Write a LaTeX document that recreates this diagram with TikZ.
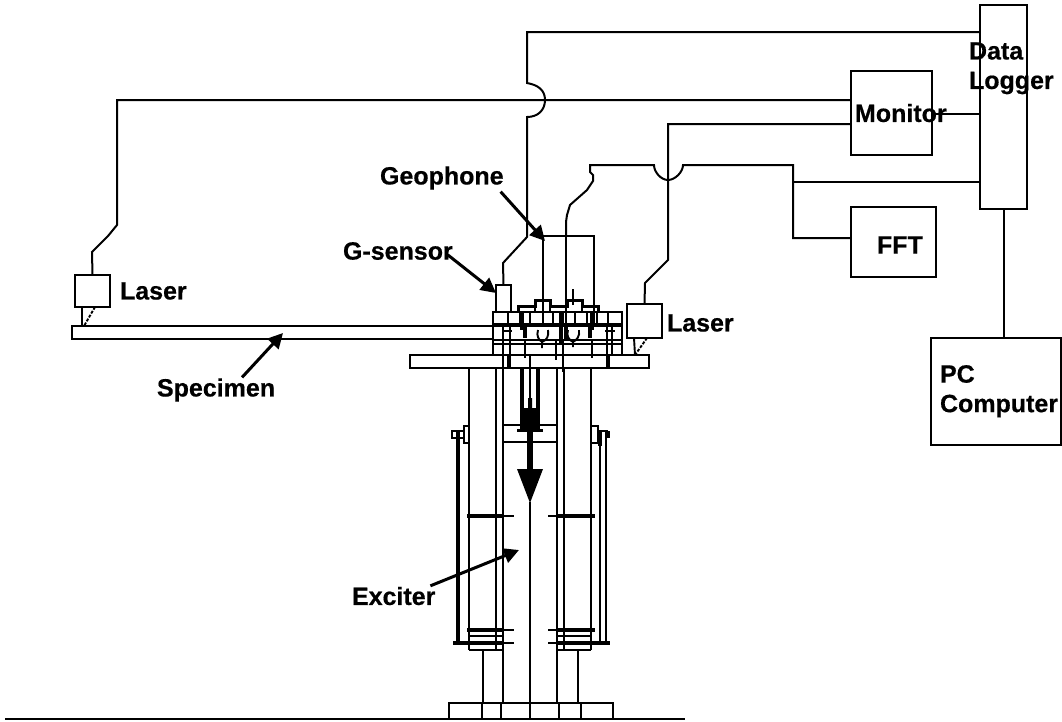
\documentclass[tikz,border=0pt]{standalone}
\usepackage{fontspec}
\setmainfont{Liberation Sans}[BoldFeatures={FakeBold=0.5}]
\usetikzlibrary{arrows.meta}
\tikzset{
  wire/.style={line width=2pt,line join=miter},
  thinl/.style={line width=1.9pt},
  thickl/.style={line width=4.6pt},
  bx/.style={draw,line width=2pt,inner sep=0pt,outer sep=0pt},
  lab/.style={inner sep=0pt,outer sep=0pt,font=\fontsize{25}{25}\selectfont\bfseries},
  pointer/.style={line width=3pt,-{Triangle[length=15pt,width=15pt]},shorten <=0pt}
}
\begin{document}
\begin{tikzpicture}[x=1pt,y=-1pt]
\useasboundingbox (0,0) rectangle (1062,721);
% boxes
\node[bx,minimum width=47pt,minimum height=204pt] (logger) at (1003.5,107) {};
\node[bx,minimum width=81pt,minimum height=84pt] (monitor) at (891.5,113) {};
\node[bx,minimum width=85pt,minimum height=70pt] (fft) at (893.5,242) {};
\node[bx,minimum width=130pt,minimum height=107pt] (pc) at (996,391.5) {};
\node[bx,minimum width=35pt,minimum height=32pt] (laserL) at (92.5,291) {};
\node[bx,minimum width=35pt,minimum height=34pt] (laserR) at (644.5,321) {};
\node[bx,minimum width=15pt,minimum height=27pt] (gsens) at (503.5,298.5) {};
\node[bx,minimum width=421pt,minimum height=13pt] (specimen) at (282.5,332.5) {};
\node[bx,minimum width=239pt,minimum height=13pt] (table) at (529.5,361.5) {};
\node[bx,minimum width=51pt,minimum height=76pt] (geo) at (568.5,274) {};
\node[bx,minimum width=129pt,minimum height=43pt] (clamp) at (557.5,333.5) {};
\node[bx,minimum width=164pt,minimum height=16pt] (base) at (531,711) {};
\coordinate (gndL) at (5,719);
\coordinate (gndR) at (685,719);
\draw[line width=2.2pt] (gndL) -- (gndR);
% wires
\draw[wire] (logger.west |- 0,32) -- (527,32) -- (527,83) .. controls (538,85) and (545,90) .. (545,100) .. controls (545,110) and (538,117) .. (527,117) -- (527,237) -- (503,263) -- (gsens.north);
\draw[wire] (monitor.west |- 0,100) -- (117,100) -- (117,225) -- (108,236) -- (92,252) -- (laserL.north);
\draw[wire] (monitor.west |- 0,124) -- (668,124) -- (668,260) -- (645,283) -- (laserR.north);
\draw[wire] (monitor.east |- 0,114) -- (logger.west |- 0,114);
\draw[wire] (logger.west |- 0,182) -- (793,182);
\draw[wire] (fft.west |- 0,238) -- (793,238) -- (793,165) -- (683,165) .. controls (683,172) and (675,180) .. (668,180) .. controls (661,180) and (654,172) .. (654,165) -- (590,165) -- (590,172) -- (593,175) -- (593,181) -- (587,190) -- (570,205) -- (567,215) -- (566,222) -- (566,236);
\draw[wire] (logger.south) -- (logger.south |- pc.north);
% laser feet
\draw[thinl] (82,307) -- (82,326);
\draw[thinl,dash pattern=on 3pt off 1.5pt] (95,307) -- (84,326);
\draw[thinl] (634,338) -- (635,355);
\draw[thinl,dash pattern=on 3pt off 1.5pt] (647,338) -- (635,355);
% geophone stems
\draw[thinl] (566,236) -- (566,324) (543,300) -- (543,324) (594,312) -- (594,324);
\draw[thinl] (573,289) -- (573,305);
% clamp details
\draw[line width=3.6pt] (493,325) -- (622,325);
\draw[thinl] (493,340) -- (622,340) (493,344) -- (622,344);
\foreach \x in {508,520,530,553,563,575,587,597,608} \draw[thinl] (\x,312) -- (\x,324);
\draw[line width=3pt] (518,312) -- (518,306) -- (535,306) -- (535,300) -- (550,300) -- (550,306) -- (567,306) -- (567,300) -- (582,300) -- (582,306) -- (598,306) -- (598,312);
\draw[thinl] (535,306) -- (535,312) (550,306) -- (550,312) (582,306) -- (582,312);
\draw[line width=3.4pt] (522,312) -- (522,330) (561,312) -- (561,345) (592,312) -- (592,330) (525,327) -- (525,338) (566,327) -- (566,340) (590,327) -- (590,338);
\draw[thinl] (503,327) -- (503,368) (510,327) -- (510,355) (607,327) -- (607,368) (612,327) -- (612,355);
\draw[thinl] (502,331) -- (512,331) (605,331) -- (615,331);
\draw[thinl] (525,340) -- (525,358) (530,355) -- (530,368) (592,340) -- (592,358) (556,340) -- (556,360) (563,340) -- (563,372);
\draw[thinl] (538,330) .. controls (536,336) and (539,340) .. (542,342) -- (542,348) (548,330) .. controls (549,336) and (547,340) .. (542,342);
\draw[thinl] (568,330) .. controls (566,336) and (569,340) .. (573,342) -- (573,347) (579,330) .. controls (580,336) and (577,340) .. (573,342);
\draw[line width=4pt] (509,355) -- (509,368) (608,355) -- (608,368);
% exciter columns
\draw[thinl] (469,368) -- (469,650) (496,368) -- (496,650) (503,368) -- (503,703);
\draw[thinl] (557,368) -- (557,703) (564,368) -- (564,650) (591,368) -- (591,650);
\draw[thinl] (483,650) -- (483,703) (578,650) -- (578,703);
\draw[thinl] (482,703) -- (482,718) (501,703) -- (501,718) (530,703) -- (530,718) (559,703) -- (559,718) (581,703) -- (581,718);
\draw[thinl] (503,425) -- (557,425) (503,442) -- (557,442);
\draw[thinl] (530,502) -- (530,703);
% cross bands
\draw[thickl] (467,516) -- (503,516);
\draw[thinl] (503,516) -- (514,516) (548,516) -- (557,516);
\draw[thickl] (557,516) -- (595,516);
\draw[thickl] (467,630) -- (503,630);
\draw[thinl] (503,630) -- (514,630) (548,630) -- (557,630);
\draw[thickl] (557,630) -- (595,630);
\draw[thickl] (453,643) -- (503,643);
\draw[thinl] (503,643) -- (514,643) (548,643) -- (557,643);
\draw[thickl] (557,643) -- (610,643);
\draw[thinl] (469,636) -- (503,636) (557,636) -- (591,636);
\draw[thinl] (469,650) -- (503,650) (557,650) -- (591,650);
% side brackets
\draw[thinl] (464,426) rectangle (469,443) (452,431) rectangle (464,438);
\draw[line width=3.8pt] (458,431) -- (458,643);
\draw[thinl] (591,426) -- (598,426) -- (598,443) -- (591,443);
\draw[thinl] (598,431) -- (608,431) (606,431) -- (606,643);
\draw[thinl] (600,431) -- (600,643);
\draw[line width=3.4pt] (608,431) -- (608,438) (600,431) -- (600,446);
% central actuator
\draw[line width=4pt] (522,368) -- (522,430) (538,368) -- (538,430);
\draw[thinl] (530,368) -- (530,405);
\fill (523,430) -- (523,408) -- (528,408) -- (528,398) -- (532,398) -- (532,408) -- (537,408) -- (537,430) -- cycle;
\draw[line width=3pt] (517,430) -- (543,430);
\draw[line width=6pt] (530,430) -- (530,470);
\fill (517,469) -- (543,469) -- (530,503) -- cycle;
% labels
\node[lab,anchor=west] (tLaserL) at (120,291) {Laser};
\node[lab,anchor=west] (tLaserR) at (667,323) {Laser};
\node[lab,anchor=west] (tGsens) at (343,251) {G-sensor};
\node[lab,anchor=west] (tGeo) at (380,178) {Geophone};
\node[lab,anchor=west] (tSpec) at (157,390) {Specimen};
\node[lab,anchor=west] (tExc) at (352,596) {Exciter};
\node[lab,anchor=west] (tMon) at (855,113) {Monitor};
\node[lab,anchor=west] (tData) at (969,51) {Data};
\node[lab,anchor=west] (tLog) at (969,83) {Logger};
\node[lab,anchor=west] (tFFT) at (877,245) {FFT};
\node[lab,anchor=west] (tPC) at (940,374) {PC};
\node[lab,anchor=west] (tComp) at (940,406) {Computer};
% pointers
\draw[pointer] (tGeo.south east) ++(-3,2) -- (545,241);
\draw[pointer] (tGsens.south east) ++(-5,-5) -- (496,293);
\draw[pointer] (tSpec.north) ++(26,-1) -- (283,333);
\draw[pointer] (tExc.north east) ++(-5,-1) -- (519,550);
\end{tikzpicture}
\end{document}
